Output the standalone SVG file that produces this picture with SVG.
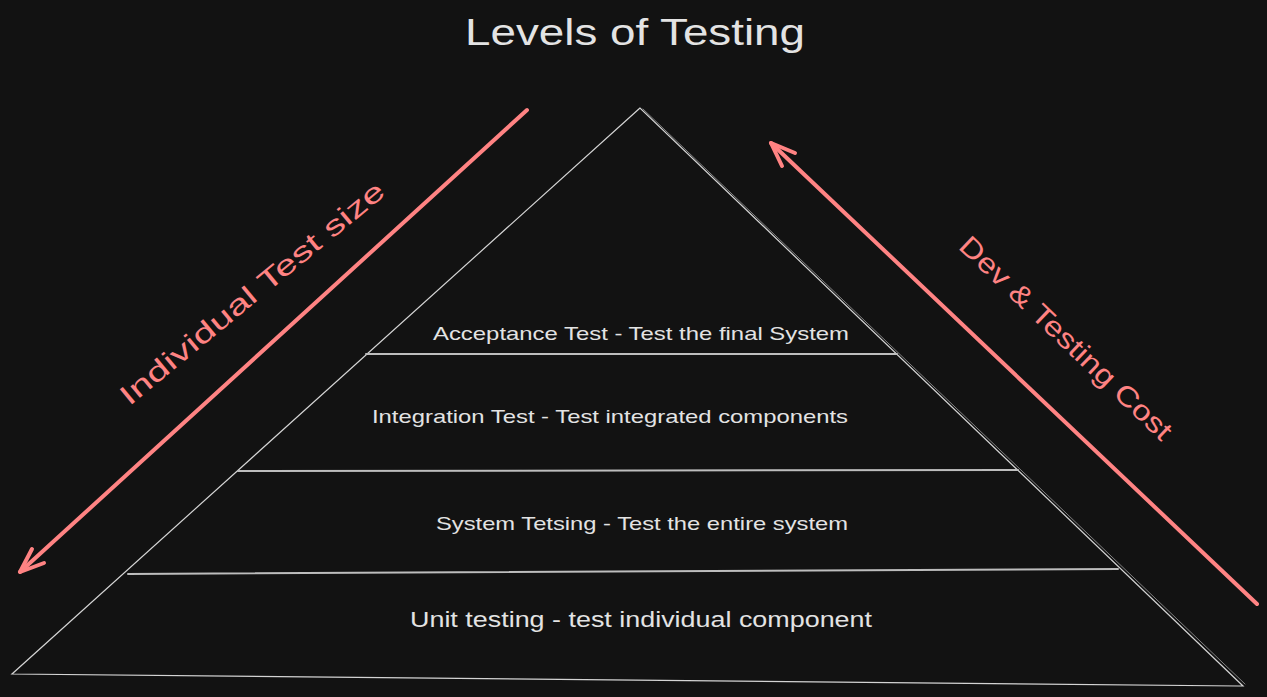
<svg xmlns="http://www.w3.org/2000/svg" width="1267" height="697" viewBox="0 0 1267 697">
  <defs>
    <style>
      .bg { fill: #121212; }
      .edge { fill: none; stroke: #d4d4d4; stroke-width: 1.2; stroke-linecap: round; }
      .edge2 { fill: none; stroke: #9a9a9a; stroke-width: 0.8; stroke-linecap: round; }
      .divider { fill: none; stroke: #bdbdbd; stroke-width: 2; stroke-linecap: round; }
      .arrow { fill: none; stroke: #ff8383; stroke-width: 4; stroke-linecap: round; stroke-linejoin: round; }
      .label { font-family: "Liberation Sans", "DejaVu Sans", sans-serif; fill: #e3e3e3; }
      .title { font-size: 36px; }
      .level { font-size: 19px; }
      .unit { font-size: 22px; }
      .side { font-family: "Liberation Sans", "DejaVu Sans", sans-serif; fill: #ff8383; font-size: 28px; }
    </style>
  </defs>
  <rect class="bg" x="0" y="0" width="1267" height="697"/>

  <g id="title">
    <text class="label title" x="635" y="45" text-anchor="middle" textLength="340" lengthAdjust="spacingAndGlyphs">Levels of Testing</text>
  </g>

  <g id="pyramid">
    <path class="edge" d="M640 108 L12 674 L1239 686 L1243 686 L640 108 Z"/>
    <path class="edge2" d="M643 109 L1245 684"/>
    <line class="divider" x1="366" y1="354" x2="897" y2="354"/>
    <line class="divider" x1="238" y1="471" x2="1018" y2="470"/>
    <line class="divider" x1="128" y1="574" x2="1118" y2="569"/>
  </g>

  <g id="level-acceptance">
    <text class="label level" x="641" y="340" text-anchor="middle" textLength="416" lengthAdjust="spacingAndGlyphs">Acceptance Test - Test the final System</text>
  </g>
  <g id="level-integration">
    <text class="label level" x="610" y="423" text-anchor="middle" textLength="476" lengthAdjust="spacingAndGlyphs">Integration Test - Test integrated components</text>
  </g>
  <g id="level-system">
    <text class="label level" x="642" y="530" text-anchor="middle" textLength="412" lengthAdjust="spacingAndGlyphs">System Tetsing - Test the entire system</text>
  </g>
  <g id="level-unit">
    <text class="label unit" x="641" y="627" text-anchor="middle" textLength="462" lengthAdjust="spacingAndGlyphs">Unit testing - test individual component</text>
  </g>

  <g id="connectors">
    <g id="arrow-test-size">
      <path class="arrow" d="M527 110 L20 572"/>
      <path class="arrow" d="M32 549 L20 572 L44 563"/>
    </g>
    <g id="arrow-cost">
      <path class="arrow" d="M1257 604 L771 143"/>
      <path class="arrow" d="M795 153 L771 143 L782 166"/>
    </g>
  </g>

  <g id="label-test-size">
    <text class="side" x="252" y="293" text-anchor="middle" dominant-baseline="central" textLength="334" lengthAdjust="spacingAndGlyphs" transform="rotate(-39.5 252 293)">Individual Test size</text>
  </g>
  <g id="label-cost">
    <text class="side" x="1066" y="338" text-anchor="middle" dominant-baseline="central" textLength="282" lengthAdjust="spacingAndGlyphs" transform="rotate(43.6 1066 338)">Dev &amp; Testing Cost</text>
  </g>
</svg>
